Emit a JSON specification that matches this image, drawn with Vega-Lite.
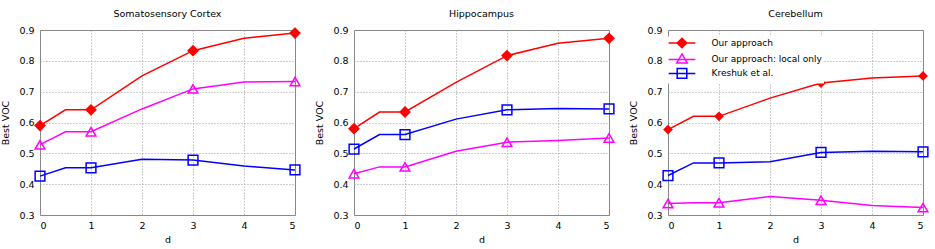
{
  "$schema": "https://vega.github.io/schema/vega-lite/v6.json",
  "padding": {"left": 0, "top": 8, "right": 0, "bottom": 0},
  "background": "white",
  "spacing": 10,
  "resolve": {"scale": {"shape": "independent"}, "legend": {"shape": "independent", "stroke": "independent", "fill": "independent"}},
  "datasets": {
    "voc": [
      {"region": "Somatosensory Cortex", "series": "Our approach", "d": 0, "voc": 0.590},
      {"region": "Somatosensory Cortex", "series": "Our approach", "d": 0.5, "voc": 0.641},
      {"region": "Somatosensory Cortex", "series": "Our approach", "d": 1, "voc": 0.641},
      {"region": "Somatosensory Cortex", "series": "Our approach", "d": 2, "voc": 0.751},
      {"region": "Somatosensory Cortex", "series": "Our approach", "d": 3, "voc": 0.833},
      {"region": "Somatosensory Cortex", "series": "Our approach", "d": 4, "voc": 0.873},
      {"region": "Somatosensory Cortex", "series": "Our approach", "d": 5, "voc": 0.890},
      {"region": "Somatosensory Cortex", "series": "Our approach: local only", "d": 0, "voc": 0.528},
      {"region": "Somatosensory Cortex", "series": "Our approach: local only", "d": 0.5, "voc": 0.570},
      {"region": "Somatosensory Cortex", "series": "Our approach: local only", "d": 1, "voc": 0.570},
      {"region": "Somatosensory Cortex", "series": "Our approach: local only", "d": 2, "voc": 0.644},
      {"region": "Somatosensory Cortex", "series": "Our approach: local only", "d": 3, "voc": 0.709},
      {"region": "Somatosensory Cortex", "series": "Our approach: local only", "d": 4, "voc": 0.731},
      {"region": "Somatosensory Cortex", "series": "Our approach: local only", "d": 5, "voc": 0.733},
      {"region": "Somatosensory Cortex", "series": "Kreshuk et al.", "d": 0, "voc": 0.426},
      {"region": "Somatosensory Cortex", "series": "Kreshuk et al.", "d": 0.5, "voc": 0.453},
      {"region": "Somatosensory Cortex", "series": "Kreshuk et al.", "d": 1, "voc": 0.453},
      {"region": "Somatosensory Cortex", "series": "Kreshuk et al.", "d": 2, "voc": 0.481},
      {"region": "Somatosensory Cortex", "series": "Kreshuk et al.", "d": 3, "voc": 0.478},
      {"region": "Somatosensory Cortex", "series": "Kreshuk et al.", "d": 4, "voc": 0.459},
      {"region": "Somatosensory Cortex", "series": "Kreshuk et al.", "d": 5, "voc": 0.446},
      {"region": "Hippocampus", "series": "Our approach", "d": 0, "voc": 0.580},
      {"region": "Hippocampus", "series": "Our approach", "d": 0.5, "voc": 0.634},
      {"region": "Hippocampus", "series": "Our approach", "d": 1, "voc": 0.634},
      {"region": "Hippocampus", "series": "Our approach", "d": 2, "voc": 0.730},
      {"region": "Hippocampus", "series": "Our approach", "d": 3, "voc": 0.817},
      {"region": "Hippocampus", "series": "Our approach", "d": 4, "voc": 0.857},
      {"region": "Hippocampus", "series": "Our approach", "d": 5, "voc": 0.873},
      {"region": "Hippocampus", "series": "Our approach: local only", "d": 0, "voc": 0.434},
      {"region": "Hippocampus", "series": "Our approach: local only", "d": 0.5, "voc": 0.456},
      {"region": "Hippocampus", "series": "Our approach: local only", "d": 1, "voc": 0.456},
      {"region": "Hippocampus", "series": "Our approach: local only", "d": 2, "voc": 0.507},
      {"region": "Hippocampus", "series": "Our approach: local only", "d": 3, "voc": 0.536},
      {"region": "Hippocampus", "series": "Our approach: local only", "d": 4, "voc": 0.542},
      {"region": "Hippocampus", "series": "Our approach: local only", "d": 5, "voc": 0.550},
      {"region": "Hippocampus", "series": "Kreshuk et al.", "d": 0, "voc": 0.514},
      {"region": "Hippocampus", "series": "Kreshuk et al.", "d": 0.5, "voc": 0.561},
      {"region": "Hippocampus", "series": "Kreshuk et al.", "d": 1, "voc": 0.561},
      {"region": "Hippocampus", "series": "Kreshuk et al.", "d": 2, "voc": 0.611},
      {"region": "Hippocampus", "series": "Kreshuk et al.", "d": 3, "voc": 0.641},
      {"region": "Hippocampus", "series": "Kreshuk et al.", "d": 4, "voc": 0.645},
      {"region": "Hippocampus", "series": "Kreshuk et al.", "d": 5, "voc": 0.644},
      {"region": "Cerebellum", "series": "Our approach", "d": 0, "voc": 0.577},
      {"region": "Cerebellum", "series": "Our approach", "d": 0.5, "voc": 0.620},
      {"region": "Cerebellum", "series": "Our approach", "d": 1, "voc": 0.620},
      {"region": "Cerebellum", "series": "Our approach", "d": 2, "voc": 0.679},
      {"region": "Cerebellum", "series": "Our approach", "d": 3, "voc": 0.728},
      {"region": "Cerebellum", "series": "Our approach", "d": 4, "voc": 0.744},
      {"region": "Cerebellum", "series": "Our approach", "d": 5, "voc": 0.751},
      {"region": "Cerebellum", "series": "Our approach: local only", "d": 0, "voc": 0.337},
      {"region": "Cerebellum", "series": "Our approach: local only", "d": 0.5, "voc": 0.340},
      {"region": "Cerebellum", "series": "Our approach: local only", "d": 1, "voc": 0.340},
      {"region": "Cerebellum", "series": "Our approach: local only", "d": 2, "voc": 0.360},
      {"region": "Cerebellum", "series": "Our approach: local only", "d": 3, "voc": 0.348},
      {"region": "Cerebellum", "series": "Our approach: local only", "d": 4, "voc": 0.331},
      {"region": "Cerebellum", "series": "Our approach: local only", "d": 5, "voc": 0.324},
      {"region": "Cerebellum", "series": "Kreshuk et al.", "d": 0, "voc": 0.428},
      {"region": "Cerebellum", "series": "Kreshuk et al.", "d": 0.5, "voc": 0.469},
      {"region": "Cerebellum", "series": "Kreshuk et al.", "d": 1, "voc": 0.469},
      {"region": "Cerebellum", "series": "Kreshuk et al.", "d": 2, "voc": 0.473},
      {"region": "Cerebellum", "series": "Kreshuk et al.", "d": 3, "voc": 0.503},
      {"region": "Cerebellum", "series": "Kreshuk et al.", "d": 4, "voc": 0.507},
      {"region": "Cerebellum", "series": "Kreshuk et al.", "d": 5, "voc": 0.505}
    ]
  },
  "config": {
    "font": "DejaVu Sans",
    "view": {"stroke": "#808080", "strokeWidth": 1},
    "title": {"fontSize": 9.5, "fontWeight": "normal", "color": "#000000", "offset": 7, "frame": "group", "anchor": "middle"},
    "axis": {
      "labelFontSize": 9.5,
      "labelColor": "#000000",
      "titleFontSize": 9.5,
      "titleFontWeight": "normal",
      "titleColor": "#000000",
      "domain": false,
      "ticks": false,
      "grid": true,
      "gridColor": "#9a9a9a",
      "gridDash": [1, 2],
      "gridWidth": 1,
      "gridOpacity": 1,
      "labelOverlap": false
    },
    "legend": {"labelFontSize": 9, "labelColor": "#000000"}
  },
  "hconcat": [
    {
      "width": 255,
      "height": 185,
      "title": {"text": "Somatosensory Cortex"},
      "data": {"name": "voc"},
      "transform": [{"filter": {"field": "region", "equal": "Somatosensory Cortex"}}],
      "encoding": {
        "x": {"field": "d", "type": "quantitative", "title": "d", "scale": {"domain": [0, 5], "nice": false}, "axis": {"values": [0, 1, 2, 3, 4, 5], "labelPadding": 5, "titlePadding": 5}},
        "y": {"field": "voc", "type": "quantitative", "title": "Best VOC", "scale": {"domain": [0.3, 0.9], "nice": false, "zero": false}, "axis": {"values": [0.3, 0.4, 0.5, 0.6, 0.7, 0.8, 0.9], "format": ".1f", "labelPadding": 6, "titlePadding": 8}}
      },
      "layer": [
        {
          "mark": {"type": "line", "strokeWidth": 1.5},
          "encoding": {
            "color": {"field": "series", "type": "nominal", "scale": {"domain": ["Our approach", "Our approach: local only", "Kreshuk et al."], "range": ["#ff0000", "#ff00ff", "#0000ff"]}, "legend": null}
          }
        },
        {
          "transform": [{"filter": {"field": "d", "oneOf": [0, 1, 3, 5]}}],
          "mark": {"type": "point", "size": 95, "strokeWidth": 1.5, "opacity": 1},
          "encoding": {
            "shape": {"field": "series", "type": "nominal", "scale": {"domain": ["Our approach", "Our approach: local only", "Kreshuk et al."], "range": ["diamond", "triangle-up", "square"]}, "legend": null},
            "stroke": {"field": "series", "type": "nominal", "scale": {"domain": ["Our approach", "Our approach: local only", "Kreshuk et al."], "range": ["#ff0000", "#ff00ff", "#0000ff"]}, "legend": null},
            "fill": {"field": "series", "type": "nominal", "scale": {"domain": ["Our approach", "Our approach: local only", "Kreshuk et al."], "range": ["#ff0000", "transparent", "transparent"]}, "legend": null}
          }
        }
      ]
    },
    {
      "width": 255,
      "height": 185,
      "title": {"text": "Hippocampus"},
      "data": {"name": "voc"},
      "transform": [{"filter": {"field": "region", "equal": "Hippocampus"}}],
      "encoding": {
        "x": {"field": "d", "type": "quantitative", "title": "d", "scale": {"domain": [0, 5], "nice": false}, "axis": {"values": [0, 1, 2, 3, 4, 5], "labelPadding": 5, "titlePadding": 5}},
        "y": {"field": "voc", "type": "quantitative", "title": "Best VOC", "scale": {"domain": [0.3, 0.9], "nice": false, "zero": false}, "axis": {"values": [0.3, 0.4, 0.5, 0.6, 0.7, 0.8, 0.9], "format": ".1f", "labelPadding": 6, "titlePadding": 8}}
      },
      "layer": [
        {
          "mark": {"type": "line", "strokeWidth": 1.5},
          "encoding": {
            "color": {"field": "series", "type": "nominal", "scale": {"domain": ["Our approach", "Our approach: local only", "Kreshuk et al."], "range": ["#ff0000", "#ff00ff", "#0000ff"]}, "legend": null}
          }
        },
        {
          "transform": [{"filter": {"field": "d", "oneOf": [0, 1, 3, 5]}}],
          "mark": {"type": "point", "size": 95, "strokeWidth": 1.5, "opacity": 1},
          "encoding": {
            "shape": {"field": "series", "type": "nominal", "scale": {"domain": ["Our approach", "Our approach: local only", "Kreshuk et al."], "range": ["diamond", "triangle-up", "square"]}, "legend": null},
            "stroke": {"field": "series", "type": "nominal", "scale": {"domain": ["Our approach", "Our approach: local only", "Kreshuk et al."], "range": ["#ff0000", "#ff00ff", "#0000ff"]}, "legend": null},
            "fill": {"field": "series", "type": "nominal", "scale": {"domain": ["Our approach", "Our approach: local only", "Kreshuk et al."], "range": ["#ff0000", "transparent", "transparent"]}, "legend": null}
          }
        }
      ]
    },
    {
      "width": 255,
      "height": 185,
      "title": {"text": "Cerebellum"},
      "data": {"name": "voc"},
      "transform": [{"filter": {"field": "region", "equal": "Cerebellum"}}],
      "encoding": {
        "x": {"field": "d", "type": "quantitative", "title": "d", "scale": {"domain": [0, 5], "nice": false}, "axis": {"values": [0, 1, 2, 3, 4, 5], "labelPadding": 5, "titlePadding": 5}},
        "y": {"field": "voc", "type": "quantitative", "title": "Best VOC", "scale": {"domain": [0.3, 0.9], "nice": false, "zero": false}, "axis": {"values": [0.3, 0.4, 0.5, 0.6, 0.7, 0.8, 0.9], "format": ".1f", "labelPadding": 6, "titlePadding": 8}}
      },
      "layer": [
        {
          "mark": {"type": "line", "strokeWidth": 1.5},
          "encoding": {
            "color": {"field": "series", "type": "nominal", "scale": {"domain": ["Our approach", "Our approach: local only", "Kreshuk et al."], "range": ["#ff0000", "#ff00ff", "#0000ff"]}, "legend": null}
          }
        },
        {
          "transform": [{"filter": {"field": "d", "oneOf": [0, 1, 3, 5]}}, {"filter": {"field": "series", "equal": "Our approach"}}],
          "mark": {"type": "point", "size": 95, "shape": "diamond", "filled": true, "color": "#ff0000", "opacity": 1}
        },
        {
          "transform": [{"filter": {"field": "d", "oneOf": [0, 1, 3, 5]}}, {"filter": {"field": "series", "equal": "Our approach: local only"}}],
          "mark": {"type": "point", "size": 95, "shape": "triangle-up", "filled": false, "color": "#ff00ff", "strokeWidth": 1.5, "opacity": 1}
        },
        {
          "transform": [{"filter": {"field": "d", "oneOf": [0, 1, 3, 5]}}, {"filter": {"field": "series", "equal": "Kreshuk et al."}}],
          "mark": {"type": "point", "size": 95, "shape": "square", "filled": false, "color": "#0000ff", "strokeWidth": 1.5, "opacity": 1}
        },
        {
          "transform": [{"filter": {"field": "d", "equal": 0}}],
          "mark": {"type": "point", "size": 36, "opacity": 0, "strokeWidth": 1.5},
          "encoding": {
            "shape": {"field": "series", "type": "nominal",
              "scale": {"domain": ["Our approach", "Our approach: local only", "Kreshuk et al."], "range": ["M-4.45,0H4.45M0,-1.6L1.6,0L0,1.6L-1.6,0Z", "M-4.45,0.25H4.45M0,-1.6L1.75,1.4L-1.75,1.4Z", "M-4.45,0H4.45M-1.6,-1.6H1.6V1.6H-1.6Z"]},
              "legend": {"title": null, "orient": "none", "legendX": -3, "legendY": 6.5, "symbolSize": 36, "symbolStrokeWidth": 1.5, "symbolOpacity": 1, "symbolOffset": 10.5, "labelOffset": 25, "rowPadding": -1.3, "fillColor": "white", "padding": 2}},
            "stroke": {"field": "series", "type": "nominal", "scale": {"domain": ["Our approach", "Our approach: local only", "Kreshuk et al."], "range": ["#ff0000", "#ff00ff", "#0000ff"]},
              "legend": {"title": null, "orient": "none", "legendX": -3, "legendY": 6.5, "symbolSize": 36, "symbolStrokeWidth": 1.5, "symbolOpacity": 1, "symbolOffset": 10.5, "labelOffset": 25, "rowPadding": -1.3, "fillColor": "white", "padding": 2}},
            "fill": {"field": "series", "type": "nominal", "scale": {"domain": ["Our approach", "Our approach: local only", "Kreshuk et al."], "range": ["#ff0000", "transparent", "transparent"]},
              "legend": {"title": null, "orient": "none", "legendX": -3, "legendY": 6.5, "symbolSize": 36, "symbolStrokeWidth": 1.5, "symbolOpacity": 1, "symbolOffset": 10.5, "labelOffset": 25, "rowPadding": -1.3, "fillColor": "white", "padding": 2}}
          }
        }
      ]
    }
  ]
}
